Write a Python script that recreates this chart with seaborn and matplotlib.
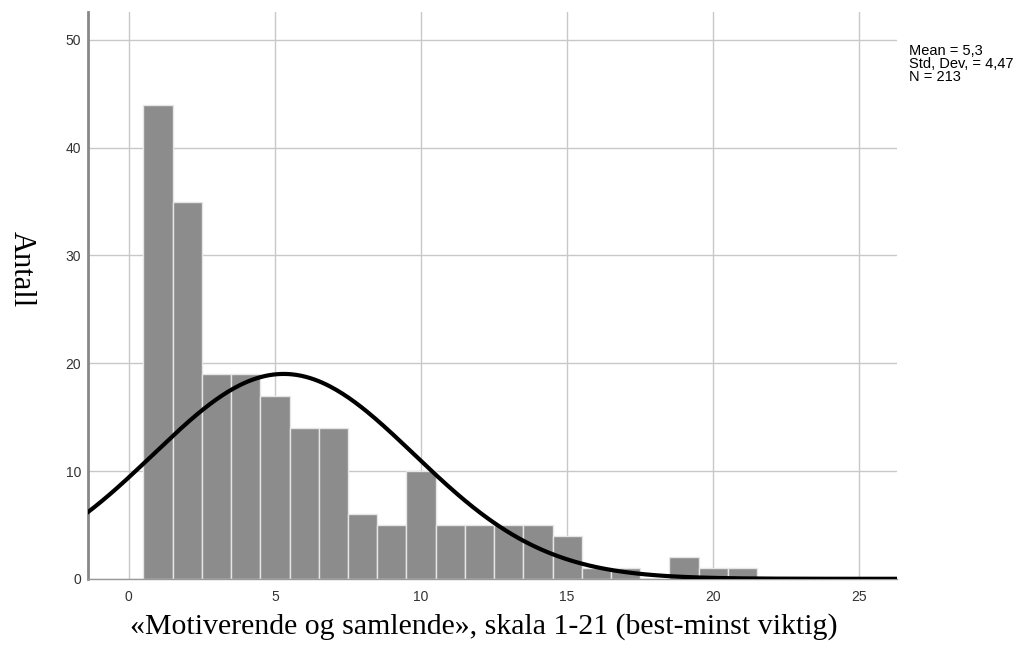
import numpy as np
import pandas as pd
import matplotlib
matplotlib.use("Agg")
import matplotlib.pyplot as plt
import seaborn as sns

# Score values (1-21) and number of respondents per score
scores = list(range(1, 22))
counts = [44, 35, 19, 19, 17, 14, 14, 6, 5, 10, 5, 5, 5, 5, 4, 1, 1, 0, 2, 1, 1]
mean_val = 5.3
std_val = 4.47
n_total = 213

x_ticks = [0, 5, 10, 15, 20, 25]
y_ticks = [0, 10, 20, 30, 40, 50]

sns.set_theme(style="white")
plt.rcParams["font.family"] = ["Liberation Sans", "DejaVu Sans"]

df = pd.DataFrame({"score": scores, "count": counts})

fig = plt.figure(figsize=(10.22, 6.63), dpi=100)
ax = fig.add_axes([0.086, 0.127, 0.792, 0.855])

sns.histplot(data=df, x="score", weights="count", discrete=True, ax=ax,
             color="#8c8c8c", alpha=1.0, edgecolor="#e6e6e6", linewidth=1.0,
             zorder=2)

# Fitted normal curve scaled to counts (bin width 1)
xs = np.linspace(-1.5, 26.4, 400)
ys = n_total / (std_val * np.sqrt(2 * np.pi)) * np.exp(-0.5 * ((xs - mean_val) / std_val) ** 2)
sns.lineplot(x=xs, y=ys, ax=ax, color="black", linewidth=3.0, zorder=3)

ax.set_xlim(-1.4, 26.3)
ax.set_ylim(0, 52.6)
ax.set_xticks(x_ticks)
ax.set_yticks(y_ticks)
ax.grid(True, color="#c8c8c8", linewidth=1.0, zorder=0)
ax.set_axisbelow(True)
ax.tick_params(axis="both", labelsize=10, colors="#333333", length=0)
ax.tick_params(axis="x", pad=8)
ax.tick_params(axis="y", pad=5)

for side in ["top", "right"]:
    ax.spines[side].set_visible(False)
ax.spines["left"].set_color("#888888")
ax.spines["left"].set_linewidth(2.0)
ax.spines["bottom"].set_color("#999999")
ax.spines["bottom"].set_linewidth(1.0)

ax.set_ylabel("")
ax.set_xlabel("")
fig.text(0.021, 0.594, "Antall", rotation=270, ha="center", va="center",
         family="Liberation Serif", fontsize=22, color="black")
fig.text(0.473, 0.055, "«Motiverende og samlende», skala 1-21 (best-minst viktig)",
         ha="center", va="center", family="Liberation Serif", fontsize=21.5,
         color="black")

fig.text(0.889, 0.9035,
         f"Mean = {mean_val:.1f}".replace(".", ",") + "\n"
         + f"Std. Dev. = {std_val:.2f}".replace(".", ",") + "\n"
         + f"N = {n_total}",
         ha="left", va="center", fontsize=10.5, linespacing=0.88, color="black")

fig.savefig("out.png", dpi=100, facecolor="white")
